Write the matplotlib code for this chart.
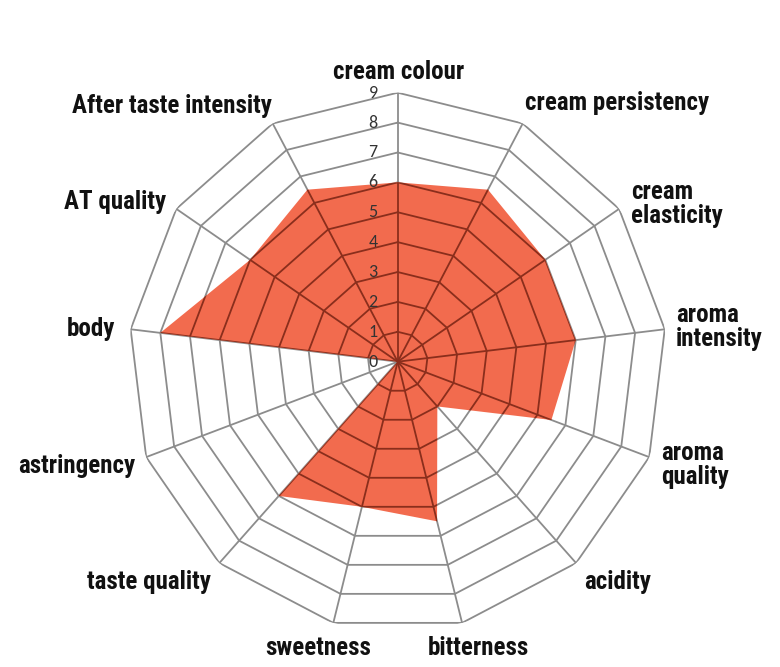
import numpy as np
import matplotlib
matplotlib.use("Agg")
import matplotlib.pyplot as plt
import matplotlib.transforms as mtransforms
import matplotlib.font_manager as fm

categories = ["cream colour", "cream persistency", "cream\nelasticity", "aroma\nintensity",
              "aroma\nquality", "acidity", "bitterness", "sweetness", "taste quality",
              "astringency", "body", "AT quality", "After taste intensity"]
values = [6, 6.5, 6, 6, 5.5, 2, 5.5, 5, 6, 0, 8, 6, 6.5]
ticks = [0, 1, 2, 3, 4, 5, 6, 7, 8, 9]

# label placement (layout only): pixel offset from outer ring vertex, ha
label_layout = [
    (1, 23, "center"),
    (2, 22.5, "left"),
    (12, 7, "left"),
    (11, 4, "left"),
    (12, -6, "left"),
    (8, -17, "left"),
    (16, -23, "center"),
    (-15, -23, "center"),
    (-8, -17, "right"),
    (-11, -7, "right"),
    (-16, 2, "right"),
    (-10, 9, "right"),
    (-1, 19.5, "right"),
]

avail_names = {f.name for f in fm.fontManager.ttflist}
avail = {(f.name, str(f.stretch)) for f in fm.fontManager.ttflist}
label_family = ["DejaVu Sans"]
label_stretch = "normal"
label_size = 15
for nm in ["Liberation Sans Narrow", "Roboto Condensed", "Open Sans Condensed",
           "Noto Sans Condensed", "DejaVu Sans Condensed", "Arial Narrow"]:
    if nm in avail_names:
        label_family = [nm, "DejaVu Sans"]
        label_size = 18
        break
else:
    cond = [n_ for (n_, s) in avail if s in ("condensed", "semi-condensed", "extra-condensed")]
    if "DejaVu Sans" in cond:
        label_stretch = "condensed"
        label_size = 16
    elif "Roboto" in avail_names:
        label_family = ["Roboto", "DejaVu Sans"]
        label_size = 16

tick_family = ["DejaVu Sans"]
for nm in ["Carlito", "Lato", "Open Sans"]:
    if nm in avail_names:
        tick_family = [nm, "DejaVu Sans"]
        break

n = len(categories)
angles = np.arange(n) * 2 * np.pi / n
ang_closed = np.append(angles, angles[0])

fig = plt.figure(figsize=(7.8, 6.67), dpi=100)
ax = fig.add_axes([128.7 / 780, 36.3 / 667, 538 / 780, 538 / 667], projection="polar")
ax.set_theta_offset(np.pi / 2)
ax.set_theta_direction(-1)
ax.set_ylim(0, 9)
ax.grid(False)
ax.set_xticks([])
ax.set_yticks([])
ax.spines["polar"].set_visible(False)
ax.patch.set_visible(False)

grid_col = "#8c8c8c"
inner_col = "#8a2e1c"

def draw_grid(color, clip=None, z=1):
    arts = []
    for r in ticks[1:]:
        arts += ax.plot(ang_closed, [r] * (n + 1), color=color, lw=1.3, zorder=z)
    for a in angles:
        arts += ax.plot([a, a], [0, ticks[-1]], color=color, lw=1.3, zorder=z)
    if clip is not None:
        for art in arts:
            art.set_clip_path(clip)

draw_grid(grid_col, z=1)
vals_closed = values + values[:1]
poly = ax.fill(ang_closed, vals_closed, color="#f26b4e", zorder=2, lw=0)[0]
draw_grid(inner_col, clip=poly, z=3)

# tick labels
off = mtransforms.offset_copy(ax.transData, fig=fig, x=-20, y=0, units="dots")
for t in ticks:
    ax.text(0, t, str(t), transform=off, ha="right", va="center", fontsize=13,
            color="#333333", family=tick_family, zorder=5)

for a, lab, (dx, dy, ha) in zip(angles, categories, label_layout):
    ax.annotate(lab, xy=(a, ticks[-1]), xytext=(dx, dy - 2), textcoords="offset pixels",
                ha=ha, va="center", fontsize=label_size, fontweight="bold",
                family=label_family, fontstretch=label_stretch,
                color="#111111", linespacing=1.0, multialignment="left",
                annotation_clip=False)

fig.savefig("out.png", dpi=100)
